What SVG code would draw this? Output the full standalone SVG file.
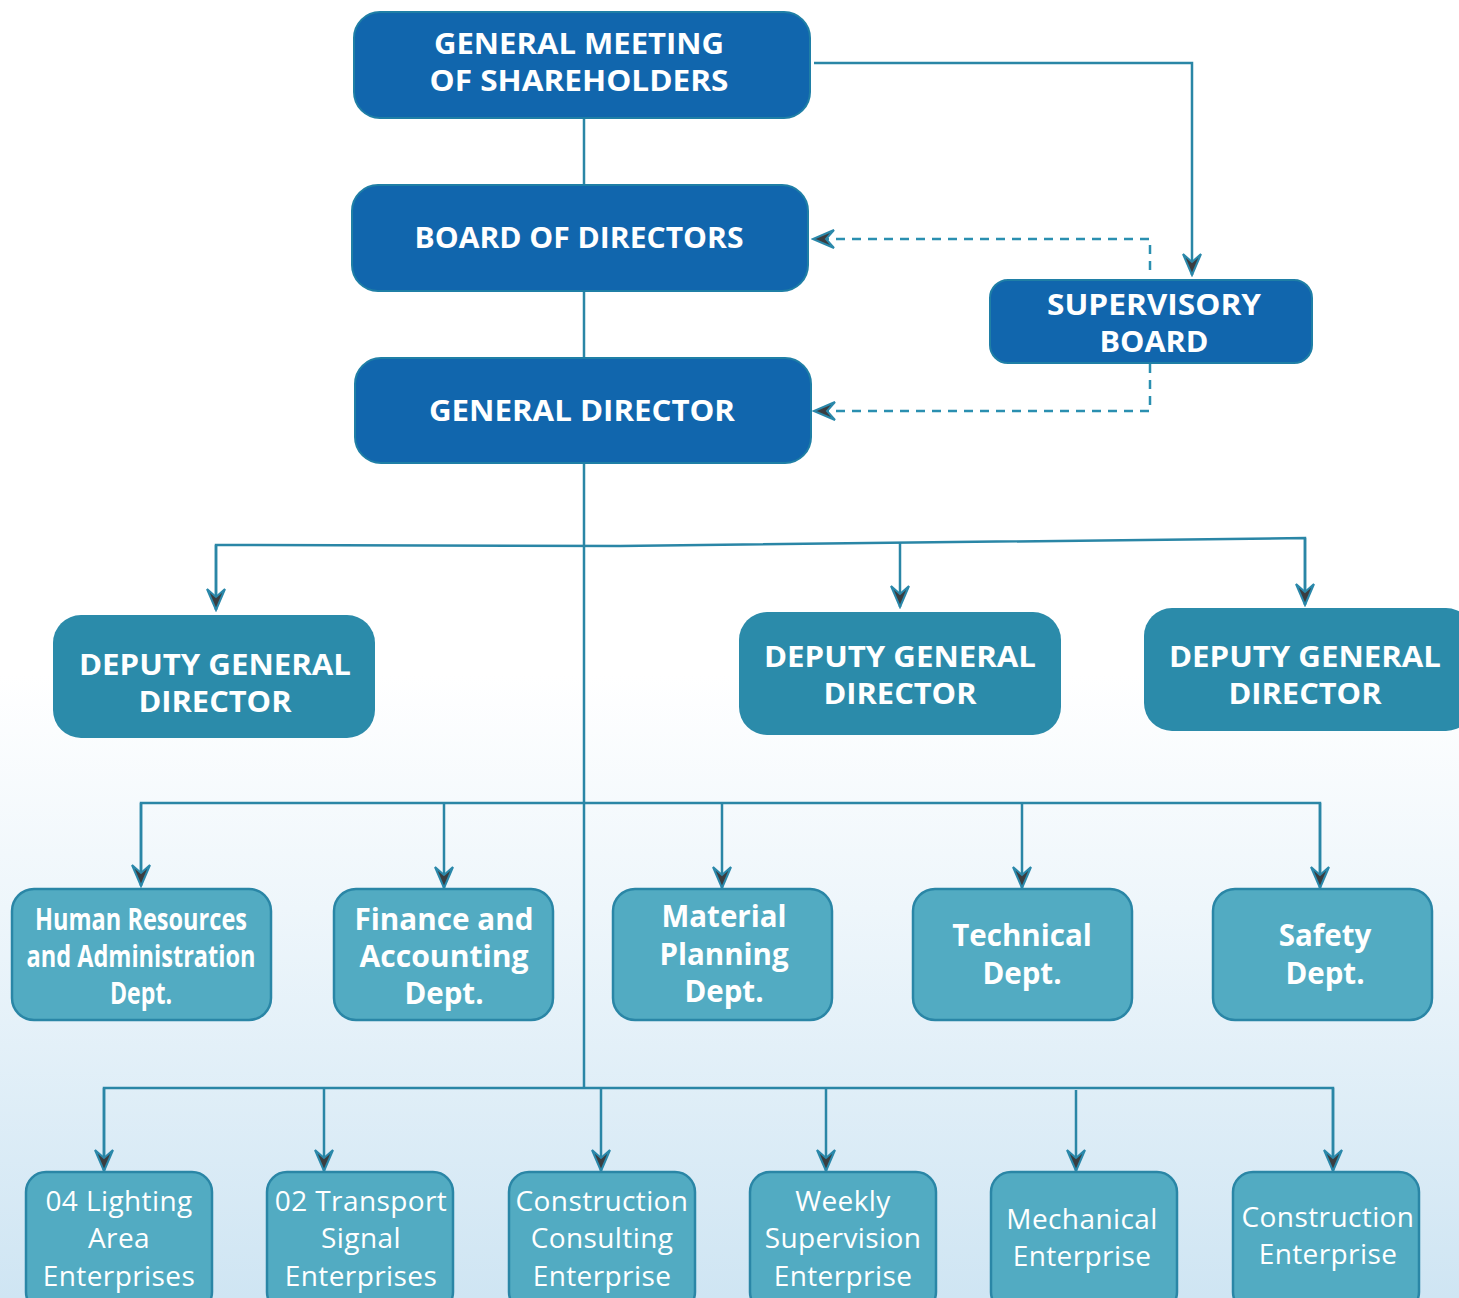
<svg xmlns="http://www.w3.org/2000/svg" width="1459" height="1298" viewBox="0 0 1459 1298">
<defs>
<linearGradient id="bg" x1="0" y1="0" x2="0" y2="1">
<stop offset="0" stop-color="#ffffff"/>
<stop offset="0.52" stop-color="#ffffff"/>
<stop offset="0.7" stop-color="#eef6fb"/>
<stop offset="1" stop-color="#cfe5f3"/>
</linearGradient>
<marker id="ah" markerWidth="24" markerHeight="24" viewBox="-22 -12 24 24" refX="0" refY="0" orient="auto" markerUnits="userSpaceOnUse">
<path d="M0,0 L-21,-9 L-13,0 L-21,9 Z" fill="#3a3d40" stroke="#2a88aa" stroke-width="2" stroke-linejoin="miter"/>
</marker>
<style>
.top{fill:#1166ad;stroke:#1f7fa6;stroke-width:2}
.dep{fill:#2b8baa}
.dept{fill:#52abc2;stroke:#2a86a6;stroke-width:2.5}
.tt{font-family:"Open Sans","Liberation Sans",sans-serif;font-weight:700;fill:#fff;text-anchor:middle}
.t1{font-size:29px}
.t2{font-size:29.5px}
.t3{font-family:"Open Sans","Liberation Sans",sans-serif;font-weight:400;fill:#fff;text-anchor:middle;font-size:28px;letter-spacing:0.4px}
.ln{fill:none;stroke:#2a86a6;stroke-width:2.5}
.ds{fill:none;stroke:#2a8fb0;stroke-width:2.5;stroke-dasharray:9 7}
</style>
</defs>
<rect x="0" y="0" width="1459" height="1298" fill="url(#bg)"/>

<g id="connectors">
<line class="ln" x1="584" y1="118" x2="584" y2="185"/>
<line class="ln" x1="584" y1="291" x2="584" y2="358"/>
<polyline class="ln" points="814,63 1192,63 1192,275" marker-end="url(#ah)"/>
<polyline class="ds" points="1150,270 1150,239 813,239" marker-end="url(#ah)"/>
<polyline class="ds" points="1150,364 1150,411 814,411" marker-end="url(#ah)"/>
<line class="ln" x1="584" y1="463" x2="584" y2="1089"/>
<polyline class="ln" points="216,609 216,545 620,546 1305,538 1305,604" />
<line class="ln" x1="216" y1="545" x2="216" y2="610" marker-end="url(#ah)"/>
<line class="ln" x1="900" y1="542" x2="900" y2="607" marker-end="url(#ah)"/>
<line class="ln" x1="1305" y1="538" x2="1305" y2="605" marker-end="url(#ah)"/>
<polyline class="ln" points="141,885 141,803 1320,803 1320,885"/>
<line class="ln" x1="141" y1="803" x2="141" y2="886" marker-end="url(#ah)"/>
<line class="ln" x1="444" y1="803" x2="444" y2="888" marker-end="url(#ah)"/>
<line class="ln" x1="722" y1="803" x2="722" y2="888" marker-end="url(#ah)"/>
<line class="ln" x1="1022" y1="803" x2="1022" y2="888" marker-end="url(#ah)"/>
<line class="ln" x1="1320" y1="803" x2="1320" y2="888" marker-end="url(#ah)"/>
<polyline class="ln" points="104,1170 104,1088 1333,1088 1333,1170"/>
<line class="ln" x1="104" y1="1088" x2="104" y2="1171" marker-end="url(#ah)"/>
<line class="ln" x1="324" y1="1088" x2="324" y2="1171" marker-end="url(#ah)"/>
<line class="ln" x1="601" y1="1088" x2="601" y2="1171" marker-end="url(#ah)"/>
<line class="ln" x1="826" y1="1088" x2="826" y2="1171" marker-end="url(#ah)"/>
<line class="ln" x1="1076" y1="1090" x2="1076" y2="1171" marker-end="url(#ah)"/>
<line class="ln" x1="1333" y1="1088" x2="1333" y2="1171" marker-end="url(#ah)"/>
</g>

<g id="gms">
<rect class="top" x="354" y="12" width="456" height="106" rx="26"/>
<text class="tt t1" x="579" y="54" textLength="290" lengthAdjust="spacingAndGlyphs">GENERAL MEETING</text>
<text class="tt t1" x="579" y="91" textLength="299" lengthAdjust="spacingAndGlyphs">OF SHAREHOLDERS</text>
</g>
<g id="bod">
<rect class="top" x="352" y="185" width="456" height="106" rx="26"/>
<text class="tt t1" x="579" y="248" textLength="329" lengthAdjust="spacingAndGlyphs">BOARD OF DIRECTORS</text>
</g>
<g id="gd">
<rect class="top" x="355" y="358" width="456" height="105" rx="26"/>
<text class="tt t1" x="582" y="421" textLength="306" lengthAdjust="spacingAndGlyphs">GENERAL DIRECTOR</text>
</g>
<g id="sb">
<rect class="top" x="990" y="280" width="322" height="83" rx="18"/>
<text class="tt t1" x="1154" y="315" textLength="214" lengthAdjust="spacingAndGlyphs">SUPERVISORY</text>
<text class="tt t1" x="1154" y="352" textLength="109" lengthAdjust="spacingAndGlyphs">BOARD</text>
</g>

<g id="dgd1">
<rect class="dep" x="53" y="615" width="322" height="123" rx="28"/>
<text class="tt t1" x="215" y="675" textLength="272" lengthAdjust="spacingAndGlyphs">DEPUTY GENERAL</text>
<text class="tt t1" x="215" y="712" textLength="153" lengthAdjust="spacingAndGlyphs">DIRECTOR</text>
</g>
<g id="dgd2">
<rect class="dep" x="739" y="612" width="322" height="123" rx="28"/>
<text class="tt t1" x="900" y="667" textLength="272" lengthAdjust="spacingAndGlyphs">DEPUTY GENERAL</text>
<text class="tt t1" x="900" y="704" textLength="153" lengthAdjust="spacingAndGlyphs">DIRECTOR</text>
</g>
<g id="dgd3">
<rect class="dep" x="1144" y="608" width="330" height="123" rx="28"/>
<text class="tt t1" x="1305" y="667" textLength="272" lengthAdjust="spacingAndGlyphs">DEPUTY GENERAL</text>
<text class="tt t1" x="1305" y="704" textLength="153" lengthAdjust="spacingAndGlyphs">DIRECTOR</text>
</g>

<g id="hr">
<rect class="dept" x="12" y="889" width="259" height="131" rx="22"/>
<text class="tt t2" x="141" y="930" textLength="212" lengthAdjust="spacingAndGlyphs">Human Resources</text>
<text class="tt t2" x="141" y="967" textLength="229" lengthAdjust="spacingAndGlyphs">and Administration</text>
<text class="tt t2" x="141" y="1004" textLength="62" lengthAdjust="spacingAndGlyphs">Dept.</text>
</g>
<g id="fin">
<rect class="dept" x="334" y="889" width="219" height="131" rx="22"/>
<text class="tt t2" x="444" y="930" textLength="179" lengthAdjust="spacingAndGlyphs">Finance and</text>
<text class="tt t2" x="444" y="967" textLength="169" lengthAdjust="spacingAndGlyphs">Accounting</text>
<text class="tt t2" x="444" y="1004">Dept.</text>
</g>
<g id="mat">
<rect class="dept" x="613" y="889" width="219" height="131" rx="22"/>
<text class="tt t2" x="724" y="927">Material</text>
<text class="tt t2" x="724" y="965">Planning</text>
<text class="tt t2" x="724" y="1002">Dept.</text>
</g>
<g id="tech">
<rect class="dept" x="913" y="889" width="219" height="131" rx="22"/>
<text class="tt t2" x="1022" y="946">Technical</text>
<text class="tt t2" x="1022" y="984">Dept.</text>
</g>
<g id="safe">
<rect class="dept" x="1213" y="889" width="219" height="131" rx="22"/>
<text class="tt t2" x="1325" y="946">Safety</text>
<text class="tt t2" x="1325" y="984">Dept.</text>
</g>

<g id="e1">
<rect class="dept" x="26" y="1172" width="186" height="140" rx="20"/>
<text class="t3" x="119" y="1211">04 Lighting</text>
<text class="t3" x="119" y="1248">Area</text>
<text class="t3" x="119" y="1286">Enterprises</text>
</g>
<g id="e2">
<rect class="dept" x="267" y="1172" width="186" height="140" rx="20"/>
<text class="t3" x="361" y="1211">02 Transport</text>
<text class="t3" x="361" y="1248">Signal</text>
<text class="t3" x="361" y="1286">Enterprises</text>
</g>
<g id="e3">
<rect class="dept" x="509" y="1172" width="186" height="140" rx="20"/>
<text class="t3" x="602" y="1211">Construction</text>
<text class="t3" x="602" y="1248">Consulting</text>
<text class="t3" x="602" y="1286">Enterprise</text>
</g>
<g id="e4">
<rect class="dept" x="750" y="1172" width="186" height="140" rx="20"/>
<text class="t3" x="843" y="1211">Weekly</text>
<text class="t3" x="843" y="1248">Supervision</text>
<text class="t3" x="843" y="1286">Enterprise</text>
</g>
<g id="e5">
<rect class="dept" x="991" y="1172" width="186" height="140" rx="20"/>
<text class="t3" x="1082" y="1229">Mechanical</text>
<text class="t3" x="1082" y="1266">Enterprise</text>
</g>
<g id="e6">
<rect class="dept" x="1233" y="1172" width="186" height="140" rx="20"/>
<text class="t3" x="1328" y="1227">Construction</text>
<text class="t3" x="1328" y="1264">Enterprise</text>
</g>
</svg>
